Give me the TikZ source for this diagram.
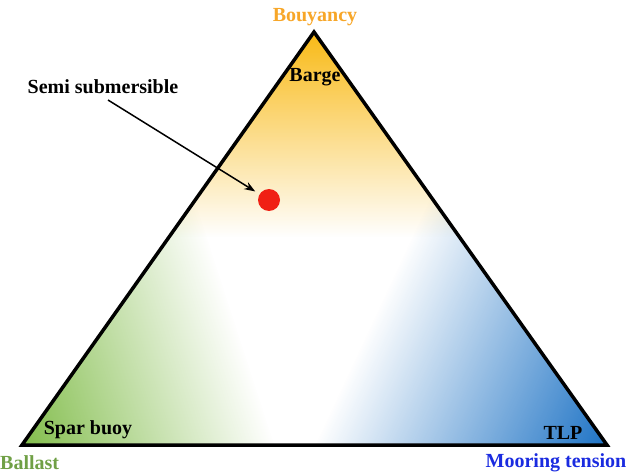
\documentclass[tikz,border=0pt]{standalone}
\usepackage{fontspec}
\setmainfont{Liberation Serif}
\usetikzlibrary{fadings,arrows.meta}
\definecolor{orangeF}{RGB}{249,186,22}
\definecolor{greenF}{RGB}{128,188,72}
\definecolor{blueF}{RGB}{25,112,196}
\definecolor{orangeT}{RGB}{247,166,40}
\definecolor{greenT}{RGB}{112,160,70}
\definecolor{blueT}{RGB}{26,43,224}
\definecolor{dotred}{RGB}{240,32,20}
\tikzfading[name=fadeaway, left color=transparent!0, middle color=transparent!60, right color=transparent!100]
\tikzfading[name=fadetop, left color=transparent!0, middle color=transparent!68, right color=transparent!100]
\begin{document}
\begin{tikzpicture}[x=1pt,y=1pt,
  lbl/.style={font=\fontsize{20}{24}\selectfont\bfseries, inner sep=0pt},
  tri/.style={line width=3.5pt, line join=miter}]
\useasboundingbox (0,0) rectangle (627,475);
\coordinate (apex) at (314,443);
\coordinate (bl) at (22,30);
\coordinate (br) at (607,30);
\fill[white] (apex) -- (bl) -- (br) -- cycle;
\begin{scope}
  \clip (apex) -- (bl) -- (br) -- cycle;
  \begin{scope}[transform canvas={rotate around={-90:(314,443)}}]
    \fill[orangeF, path fading=fadetop] (314,123) rectangle (519,763);
  \end{scope}
  \begin{scope}[transform canvas={rotate around={18:(22,30)}}]
    \fill[greenF, path fading=fadeaway] (17,-290) rectangle (262,350);
  \end{scope}
  \begin{scope}[transform canvas={rotate around={155:(607,30)}}]
    \fill[blueF, path fading=fadeaway] (602,-290) rectangle (872,350);
  \end{scope}
\end{scope}
\draw[tri] (apex) -- (bl) -- (br) -- cycle;
\node[lbl, text=orangeT] (bouy) at (315,458) {Bouyancy};
\node[lbl] (barge) at (315,398) {Barge};
\node[lbl] (spar) at (88,45) {Spar buoy};
\node[lbl] (tlp) at (563,42) {TLP};
\node[lbl, text=greenT, anchor=west] (ballast) at (0,12) {Ballast};
\node[lbl, text=blueT] (moor) at (556,12) {Mooring tension};
\node[lbl] (semi) at (103,388) {Semi submersible};
\node[circle, fill=dotred, minimum size=22pt, inner sep=0pt] (dot) at (269,275) {};
\coordinate (a0) at (108,375);
\draw[line width=1.5pt, -{Stealth[length=11pt,width=8pt]}, shorten >=5pt] (a0) -- (dot);
\end{tikzpicture}
\end{document}
